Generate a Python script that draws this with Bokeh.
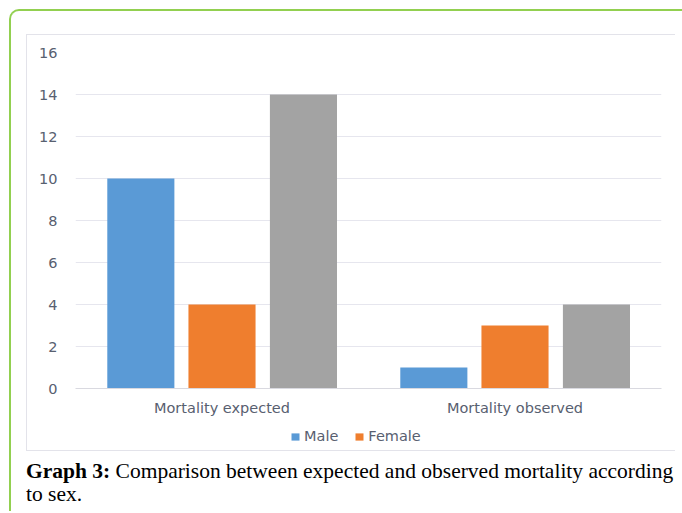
from bokeh.plotting import figure
from bokeh.layouts import column
from bokeh.models import FactorRange, Legend, LegendItem, ColumnDataSource, Div, Range1d
from bokeh.transform import dodge
from bokeh.embed import file_html
from bokeh.resources import INLINE

categories = ["Mortality expected", "Mortality observed"]
male = [10, 1]
female = [4, 3]
other = [14, 4]
series_names = ["Male", "Female"]
y_ticks = [0, 2, 4, 6, 8, 10, 12, 14, 16]
caption_bold = "Graph 3:"
caption_rest = "Comparison between expected and observed mortality according"
caption_line2 = "to sex."

COLORS = ["#5a9ad6", "#ef7e2e", "#a3a3a3"]
TXT = "#586070"
FONT = "DejaVu Sans"

src = ColumnDataSource(data=dict(cat=categories, male=male, female=female, other=other))

xr = FactorRange(*categories, range_padding=0)
p = figure(x_range=xr, y_range=(0, 16),
           width=648, height=383, output_backend="svg", toolbar_location=None,
           min_border_left=48, min_border_right=14, min_border_top=17, min_border_bottom=30,
           margin=0)
p.outline_line_color = None

w = 0.229
offsets = [-0.277, 0.0, 0.278]
r_male = p.vbar(x=dodge("cat", offsets[0], range=xr), top="male", width=w, source=src,
                fill_color=COLORS[0], line_color=None)
r_female = p.vbar(x=dodge("cat", offsets[1], range=xr), top="female", width=w, source=src,
                  fill_color=COLORS[1], line_color=None)
r_other = p.vbar(x=dodge("cat", offsets[2], range=xr), top="other", width=w, source=src,
                 fill_color=COLORS[2], line_color=None)

p.yaxis.ticker = y_ticks
p.yaxis.axis_line_color = None
p.yaxis.major_tick_line_color = None
p.yaxis.minor_tick_line_color = None
p.yaxis.major_label_standoff = 12
p.yaxis.major_label_text_font = FONT
p.yaxis.major_label_text_font_size = "14.5px"
p.yaxis.major_label_text_color = TXT

p.xaxis.axis_line_color = "#d9d9e0"
p.xaxis.major_tick_line_color = None
p.xaxis.minor_tick_line_color = None
p.xaxis.major_label_standoff = 5
p.xaxis.major_label_text_font = FONT
p.xaxis.major_label_text_font_size = "14.5px"
p.xaxis.major_label_text_color = TXT

p.xgrid.grid_line_color = None
p.ygrid.grid_line_color = "#e6e6ee"
p.ygrid.grid_line_width = 1

# legend strip: a small axis-less figure; its zero-width, off-range renderers only
# supply the legend swatches
pl = figure(width=648, height=32, x_range=xr, y_range=Range1d(-30, -29), output_backend="svg",
            toolbar_location=None, min_border=0, margin=0,
            x_axis_location=None, y_axis_location=None)
pl.grid.visible = False
pl.outline_line_color = None
lm = pl.vbar(x=dodge("cat", offsets[0], range=xr), top="male", width=0, source=src,
             fill_color=COLORS[0], line_color=None)
lf = pl.vbar(x=dodge("cat", offsets[1], range=xr), top="female", width=0, source=src,
             fill_color=COLORS[1], line_color=None)
legend = Legend(items=[LegendItem(label=series_names[0], renderers=[lm]),
                       LegendItem(label=series_names[1], renderers=[lf])],
                orientation="horizontal", location=(215, 6),
                border_line_color=None, background_fill_alpha=0,
                glyph_width=10, glyph_height=9, label_text_font=FONT,
                label_text_font_size="14.5px", label_text_color=TXT,
                spacing=16, padding=4, margin=0, label_standoff=4)
pl.add_layout(legend)

inner = column(p, pl, spacing=0, margin=(23, 0, 0, 15),
               styles={"border-left": "1px solid #e3e3ea", "border-top": "1px solid #e3e3ea",
                       "border-bottom": "1px solid #e3e3ea"})

cap = Div(text=f"<b>{caption_bold}</b> {caption_rest}<br>{caption_line2}",
          width=656, height=46, margin=(9, 0, 5, 15),
          styles={"font-family": "'Liberation Serif', 'Times New Roman', serif",
                  "font-size": "21.5px", "line-height": "23px", "color": "black",
                  "white-space": "nowrap"})

layout = column(inner, cap, spacing=0, margin=(9, 0, 0, 9),
                styles={"border-left": "2px solid #92d050", "border-top": "2px solid #92d050",
                        "border-top-left-radius": "10px"})

open("out.html", "w").write(file_html(layout, INLINE))
